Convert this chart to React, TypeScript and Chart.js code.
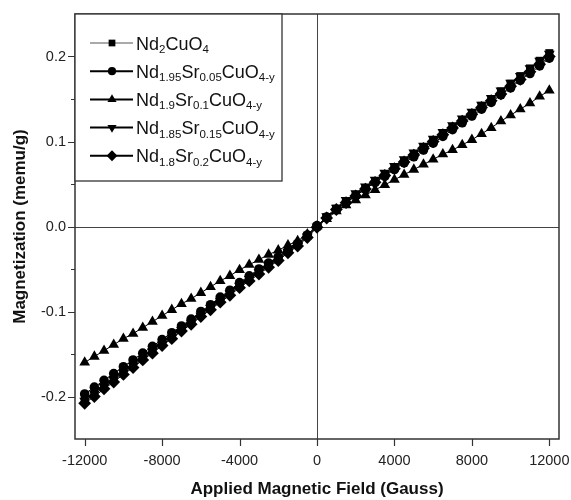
import { useEffect, useRef } from "react";
import { Chart, registerables } from "chart.js";

Chart.register(...registerables);

// Applied magnetic field (Gauss)
const FIELD = [
  -12000, -11500, -11000, -10500, -10000, -9500, -9000, -8500, -8000, -7500, -7000, -6500,
  -6000, -5500, -5000, -4500, -4000, -3500, -3000, -2500, -2000, -1500, -1000, -500, 0,
  500, 1000, 1500, 2000, 2500, 3000, 3500, 4000, 4500, 5000, 5500, 6000, 6500, 7000, 7500,
  8000, 8500, 9000, 9500, 10000, 10500, 11000, 11500, 12000,
];

// Magnetization (memu/g)
const M_X000 = [
  -0.203, -0.195, -0.187, -0.178, -0.170, -0.162, -0.154, -0.145, -0.137, -0.129, -0.120, -0.112,
  -0.103, -0.094, -0.086, -0.077, -0.068, -0.060, -0.052, -0.044, -0.037, -0.029, -0.021, -0.011, 0.0,
  0.011, 0.021, 0.029, 0.037, 0.045, 0.053, 0.061, 0.069, 0.077, 0.085, 0.093, 0.101,
  0.109, 0.117, 0.125, 0.133, 0.142, 0.150, 0.159, 0.168, 0.177, 0.186, 0.195, 0.204,
];
const M_X005 = [
  -0.197, -0.189, -0.181, -0.173, -0.165, -0.157, -0.149, -0.141, -0.133, -0.125, -0.117, -0.109,
  -0.100, -0.092, -0.083, -0.075, -0.066, -0.058, -0.050, -0.043, -0.036, -0.028, -0.020, -0.010, 0.001,
  0.011, 0.020, 0.028, 0.036, 0.044, 0.052, 0.059, 0.067, 0.075, 0.082, 0.090, 0.098,
  0.106, 0.114, 0.122, 0.130, 0.138, 0.146, 0.155, 0.163, 0.172, 0.180, 0.189, 0.198,
];
const M_X010 = [
  -0.160, -0.153, -0.146, -0.139, -0.132, -0.126, -0.119, -0.112, -0.105, -0.098, -0.091, -0.085,
  -0.078, -0.071, -0.064, -0.058, -0.051, -0.045, -0.039, -0.033, -0.028, -0.022, -0.017, -0.009, 0.0,
  0.009, 0.018, 0.025, 0.031, 0.037, 0.043, 0.049, 0.055, 0.061, 0.067, 0.073, 0.079,
  0.085, 0.090, 0.096, 0.102, 0.109, 0.116, 0.124, 0.131, 0.138, 0.145, 0.153, 0.160,
];
const M_X015 = [
  -0.205, -0.197, -0.189, -0.180, -0.172, -0.164, -0.156, -0.147, -0.139, -0.131, -0.122, -0.114,
  -0.105, -0.096, -0.088, -0.079, -0.070, -0.062, -0.054, -0.046, -0.038, -0.030, -0.022, -0.012, 0.0,
  0.012, 0.022, 0.031, 0.039, 0.047, 0.055, 0.063, 0.071, 0.079, 0.087, 0.095, 0.103,
  0.111, 0.119, 0.127, 0.135, 0.143, 0.151, 0.160, 0.169, 0.177, 0.186, 0.195, 0.203,
];
const M_X020 = [
  -0.208, -0.200, -0.191, -0.183, -0.174, -0.166, -0.157, -0.149, -0.140, -0.132, -0.123, -0.115,
  -0.106, -0.098, -0.089, -0.081, -0.072, -0.064, -0.056, -0.048, -0.040, -0.031, -0.023, -0.013, -0.001,
  0.010, 0.020, 0.028, 0.036, 0.044, 0.052, 0.060, 0.068, 0.076, 0.084, 0.092, 0.100,
  0.108, 0.116, 0.124, 0.132, 0.140, 0.148, 0.156, 0.165, 0.173, 0.182, 0.191, 0.200,
];

const SERIES_LABELS = [
  "Nd_{2}CuO_{4}",
  "Nd_{1.95}Sr_{0.05}CuO_{4-y}",
  "Nd_{1.9}Sr_{0.1}CuO_{4-y}",
  "Nd_{1.85}Sr_{0.15}CuO_{4-y}",
  "Nd_{1.8}Sr_{0.2}CuO_{4-y}",
];

const X_TICKS = [-12000, -8000, -4000, 0, 4000, 8000, 12000];
const Y_TICKS = [-0.2, -0.1, 0.0, 0.1, 0.2];
const Y_MINOR = [-0.15, -0.05, 0.05, 0.15];

const FONT = '"Liberation Sans", Arial, sans-serif';

type Marker = { style: string; radius: number; rotation: number; lineWidth: number; lineColor: string };
const MARKERS: Marker[] = [
  { style: "rect", radius: 5.6, rotation: 0, lineWidth: 1, lineColor: "#555" },
  { style: "circle", radius: 4.8, rotation: 0, lineWidth: 2, lineColor: "#000" },
  { style: "triangle", radius: 6.2, rotation: 0, lineWidth: 2, lineColor: "#000" },
  { style: "triangle", radius: 6.2, rotation: 180, lineWidth: 2, lineColor: "#000" },
  { style: "rectRot", radius: 6.4, rotation: 0, lineWidth: 2, lineColor: "#000" },
];

function drawMarker(ctx: CanvasRenderingContext2D, m: Marker, x: number, y: number) {
  const r = m.radius;
  let rad = (m.rotation * Math.PI) / 180;
  ctx.beginPath();
  if (m.style === "circle") {
    ctx.arc(x, y, r, 0, Math.PI * 2);
  } else if (m.style === "triangle") {
    for (let k = 0; k < 3; k++) {
      const px = x + Math.sin(rad) * r;
      const py = y - Math.cos(rad) * r;
      if (k === 0) ctx.moveTo(px, py);
      else ctx.lineTo(px, py);
      rad += (2 * Math.PI) / 3;
    }
  } else {
    if (m.style === "rect") rad += Math.PI / 4;
    const xo = Math.cos(rad) * r;
    const yo = Math.sin(rad) * r;
    ctx.moveTo(x - xo, y - yo);
    ctx.lineTo(x + yo, y - xo);
    ctx.lineTo(x + xo, y + yo);
    ctx.lineTo(x - yo, y + xo);
  }
  ctx.closePath();
  ctx.fill();
}

function parseLabel(s: string): { text: string; sub: boolean }[] {
  const parts: { text: string; sub: boolean }[] = [];
  const re = /_\{([^}]*)\}/g;
  let last = 0;
  let m: RegExpExecArray | null;
  while ((m = re.exec(s))) {
    if (m.index > last) parts.push({ text: s.slice(last, m.index), sub: false });
    parts.push({ text: m[1], sub: true });
    last = m.index + m[0].length;
  }
  if (last < s.length) parts.push({ text: s.slice(last), sub: false });
  return parts;
}

const decorPlugin = {
  id: "decor",
  beforeDatasetsDraw(chart: any) {
    const { ctx, chartArea, scales } = chart;
    const { left, right, top, bottom } = chartArea;
    ctx.save();
    ctx.strokeStyle = "#444";
    ctx.lineWidth = 1;
    const x0 = Math.round(scales.x.getPixelForValue(0)) + 0.5;
    const y0 = Math.round(scales.y.getPixelForValue(0)) + 0.5;
    ctx.beginPath();
    ctx.moveTo(x0, top);
    ctx.lineTo(x0, bottom);
    ctx.moveTo(left, y0);
    ctx.lineTo(right, y0);
    ctx.stroke();
    ctx.restore();
  },
  afterDatasetsDraw(chart: any) {
    const { ctx, chartArea, scales } = chart;
    const { left, right, top, bottom } = chartArea;
    ctx.save();
    // frame
    ctx.strokeStyle = "#333";
    ctx.lineWidth = 1.5;
    ctx.strokeRect(left, top, right - left, bottom - top);
    // ticks
    ctx.lineWidth = 1.2;
    ctx.beginPath();
    X_TICKS.forEach((v) => {
      const px = Math.round(scales.x.getPixelForValue(v)) + 0.5;
      ctx.moveTo(px, bottom);
      ctx.lineTo(px, bottom + 7);
    });
    Y_TICKS.forEach((v) => {
      const py = Math.round(scales.y.getPixelForValue(v)) + 0.5;
      ctx.moveTo(left, py);
      ctx.lineTo(left - 7, py);
    });
    Y_MINOR.forEach((v) => {
      const py = Math.round(scales.y.getPixelForValue(v)) + 0.5;
      ctx.moveTo(left, py);
      ctx.lineTo(left - 4, py);
    });
    ctx.stroke();

    // legend box
    const bx = left;
    const by = top;
    const bw = 207;
    const bh = 167;
    ctx.fillStyle = "#fff";
    ctx.fillRect(bx, by, bw, bh);
    ctx.strokeStyle = "#333";
    ctx.lineWidth = 1.3;
    ctx.strokeRect(bx, by, bw, bh);

    SERIES_LABELS.forEach((label, i) => {
      const ry = by + 29 + i * 28.2;
      const m = MARKERS[i];
      ctx.strokeStyle = m.lineColor;
      ctx.lineWidth = m.lineWidth;
      ctx.beginPath();
      ctx.moveTo(bx + 15, ry);
      ctx.lineTo(bx + 58, ry);
      ctx.stroke();
      ctx.fillStyle = "#000";
      drawMarker(ctx, { ...m, radius: m.radius * 0.85 }, bx + 37, ry);
      let tx = bx + 61;
      ctx.textBaseline = "alphabetic";
      ctx.textAlign = "left";
      parseLabel(label).forEach((p) => {
        ctx.font = p.sub ? `11.5px ${FONT}` : `18px ${FONT}`;
        ctx.fillStyle = "#111";
        ctx.fillText(p.text, tx, p.sub ? ry + 10 : ry + 6.5);
        tx += ctx.measureText(p.text).width;
      });
    });
    ctx.restore();
  },
};

export default function App() {
  const canvasRef = useRef<HTMLCanvasElement | null>(null);

  useEffect(() => {
    if (!canvasRef.current) return;
    const all = [M_X000, M_X005, M_X010, M_X015, M_X020];
    const chart = new Chart(canvasRef.current, {
      type: "scatter",
      data: {
        datasets: all.map((vals, i) => ({
          label: SERIES_LABELS[i],
          data: FIELD.map((x, k) => ({ x, y: vals[k] })),
          showLine: true,
          borderColor: "#000",
          borderWidth: 1,
          backgroundColor: "#000",
          pointBackgroundColor: "#000",
          pointBorderColor: "#000",
          pointBorderWidth: 0,
          pointStyle: MARKERS[i].style as any,
          pointRadius: MARKERS[i].radius,
          pointRotation: MARKERS[i].rotation,
          pointHoverRadius: MARKERS[i].radius,
        })),
      },
      options: {
        responsive: false,
        animation: false,
        devicePixelRatio: 1,
        layout: { padding: { top: 14, right: 12, left: 0, bottom: 0 } },
        plugins: { legend: { display: false }, tooltip: { enabled: false } },
        scales: {
          x: {
            type: "linear",
            min: -12500,
            max: 12500,
            grid: { display: false, drawTicks: false },
            border: { display: false },
            afterBuildTicks: (s: any) => {
              s.ticks = X_TICKS.map((value) => ({ value }));
            },
            afterFit: (s: any) => {
              s.height = 61;
              s.paddingLeft = 0;
              s.paddingRight = 0;
            },
            ticks: {
              autoSkip: false,
              maxRotation: 0,
              padding: 13,
              color: "#222",
              font: { family: FONT, size: 14.5 },
              callback: (v: any) => String(v),
            },
            title: {
              display: true,
              text: "Applied Magnetic Field (Gauss)",
              color: "#111",
              font: { family: FONT, size: 17, weight: "bold" },
              padding: { top: 0, bottom: 0 },
            },
          },
          y: {
            type: "linear",
            min: -0.25,
            max: 0.25,
            grid: { display: false, drawTicks: false },
            border: { display: false },
            afterBuildTicks: (s: any) => {
              s.ticks = Y_TICKS.map((value) => ({ value }));
            },
            afterFit: (s: any) => {
              s.width = 75;
              s.paddingTop = 0;
              s.paddingBottom = 0;
            },
            ticks: {
              autoSkip: false,
              padding: 9,
              color: "#222",
              font: { family: FONT, size: 14.5 },
              callback: (v: any) => Number(v).toFixed(1),
            },
            title: {
              display: true,
              text: "Magnetization (memu/g)",
              color: "#111",
              font: { family: FONT, size: 17, weight: "bold" },
              padding: { top: 10, bottom: 0 },
            },
          },
        },
      },
      plugins: [decorPlugin],
    });
    return () => chart.destroy();
  }, []);

  return (
    <div style={{ position: "absolute", left: 0, top: 0, width: 571, height: 500, background: "#fff" }}>
      <canvas ref={canvasRef} width={571} height={500} />
    </div>
  );
}
